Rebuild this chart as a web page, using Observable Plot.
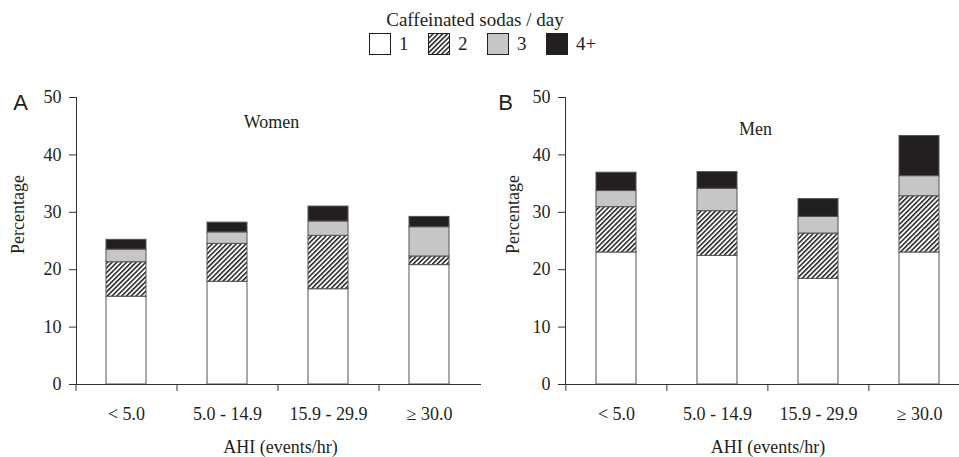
<!DOCTYPE html>
<html><head><meta charset="utf-8">
<script src="https://cdn.jsdelivr.net/npm/d3@7"></script>
<script src="https://cdn.jsdelivr.net/npm/@observablehq/plot@0.6"></script>
<style>
html,body{margin:0;padding:0;background:#fff;overflow:hidden;width:959px;height:457px;}
#root{position:relative;width:959px;height:457px;overflow:hidden;font-family:"Liberation Serif","Times New Roman",serif;color:#231f20;}
.panel{position:absolute;top:80px;}
.panel svg{max-width:none !important;}
#legtitle{position:absolute;left:325px;width:300px;top:8px;height:24px;line-height:24px;text-align:center;font-size:19px;font-family:"Liberation Serif",serif;}
#legrow{position:absolute;left:369px;top:33px;height:22px;display:flex;}
.item{width:59px;display:flex;align-items:center;height:22px;font-size:19px;line-height:22px;font-family:"Liberation Serif",serif;}
.item svg{margin-right:8px;flex:none;}
</style></head>
<body><div id="root">
<div id="legtitle">Caffeinated sodas / day</div>
<div id="legrow"></div>
</div>
<script>
const categories = ["< 5.0", "5.0 - 14.9", "15.9 - 29.9", "≥ 30.0"];
const sodaLevels = ["1", "2", "3", "4+"];
const yTicks = [0, 10, 20, 30, 40, 50];
// segment heights (percentage) per soda level, per AHI category
const women1 = [15.3, 17.9, 16.6, 20.8];
const women2 = [6.0, 6.6, 9.3, 1.5];
const women3 = [2.2, 2.0, 2.5, 5.1];
const women4 = [1.7, 1.7, 2.6, 1.8];
const men1 = [23.0, 22.4, 18.4, 23.0];
const men2 = [7.9, 7.8, 7.9, 9.8];
const men3 = [2.8, 3.9, 2.9, 3.5];
const men4 = [3.2, 2.9, 3.1, 7.0];

const ink = "#231f20";
const gray = "#c6c6c6";
const serif = '"Liberation Serif","Times New Roman",serif';
function hatchDef(id) {
  return `<pattern id="${id}" patternUnits="userSpaceOnUse" width="3.4" height="3.4" patternTransform="rotate(45)"><rect width="3.4" height="3.4" fill="#fff"/><rect width="1.5" height="3.4" fill="${ink}"/></pattern>`;
}
function rowsOf(series) {
  const rows = [];
  series.forEach((vals, li) => vals.forEach((v, ci) => rows.push({cat: categories[ci], level: sodaLevels[li], value: v})));
  return rows;
}

function panel(cfg) {
  const step = (cfg.width - cfg.ml) / categories.length;
  const svg = Plot.plot({
    width: cfg.width, height: 377,
    marginLeft: cfg.ml, marginRight: 0, marginTop: 17, marginBottom: 73,
    style: {fontFamily: serif, fontSize: "18px", color: ink, background: "transparent", overflow: "visible", maxWidth: "none"},
    x: {domain: categories, paddingInner: 0.6, paddingOuter: 0.3},
    y: {domain: [0, 50]},
    color: {domain: sodaLevels, range: ["#ffffff", `url(#${cfg.id})`, gray, ink]},
    marks: [
      Plot.barY(rowsOf(cfg.series), {x: "cat", y: "value", fill: "level", stroke: "#555", strokeWidth: 1}),
      Plot.axisY({ticks: yTicks, tickSize: 7, tickPadding: 8, fontSize: 18, fontFamily: serif, label: null, stroke: "#333"}),
      Plot.axisX({tickSize: 7, tickFormat: () => "", dx: -step / 2, label: null, stroke: "#333"}),
      Plot.axisX({tickSize: 0, tickPadding: 23, fontSize: 18, fontFamily: serif, label: null}),
      Plot.frame({anchor: "left", stroke: "#333"}),
      Plot.frame({anchor: "bottom", stroke: "#333"}),
      Plot.text([cfg.sex], {frameAnchor: "top", text: d => d, dx: cfg.sexDx, dy: cfg.sexDy, fontSize: 18, fontFamily: serif, lineAnchor: "middle"}),
      Plot.text([cfg.letter], {frameAnchor: "top-left", text: d => d, dx: cfg.letDx, dy: 5, fontSize: 22, fontFamily: '"Liberation Sans",Arial,sans-serif', lineAnchor: "middle", textAnchor: "middle"}),
      Plot.text(["Percentage"], {frameAnchor: "left", text: d => d, dx: cfg.pDx, dy: -26.5, rotate: -90, fontSize: 18, fontFamily: serif, lineAnchor: "middle", textAnchor: "middle"}),
      Plot.text(["AHI (events/hr)"], {frameAnchor: "bottom", text: d => d, dx: cfg.aDx, dy: 63, fontSize: 18, fontFamily: serif, lineAnchor: "middle"})
    ]
  });
  svg.style.maxWidth = "none";
  d3.select(svg).insert("defs", ":first-child").html(hatchDef(cfg.id));
  const div = document.createElement("div");
  div.className = "panel";
  div.style.left = cfg.left + "px";
  div.style.width = cfg.width + "px";
  div.appendChild(svg);
  document.getElementById("root").appendChild(div);
}

panel({id: "hatchA", left: 0, width: 480, ml: 76, series: [women1, women2, women3, women4], sex: "Women", sexDx: -7, sexDy: 25, letter: "A", letDx: -56, pDx: -58, aDx: 2});
panel({id: "hatchB", left: 480, width: 490, ml: 85, series: [men1, men2, men3, men4], sex: "Men", sexDx: -12.5, sexDy: 32, letter: "B", letDx: -60, pDx: -52, aDx: 0});

// legend
const legFills = ["#ffffff", "url(#hatchL)", gray, ink];
const row = document.getElementById("legrow");
sodaLevels.forEach((lv, i) => {
  const item = document.createElement("div");
  item.className = "item";
  const defs = i === 1 ? `<defs>${hatchDef("hatchL")}</defs>` : "";
  item.innerHTML = `<svg width="22" height="22">${defs}<rect x="0.5" y="0.5" width="21" height="21" fill="${legFills[i]}" stroke="${ink}" stroke-width="1"/></svg><span>${lv}</span>`;
  row.appendChild(item);
});
</script>
</body></html>
